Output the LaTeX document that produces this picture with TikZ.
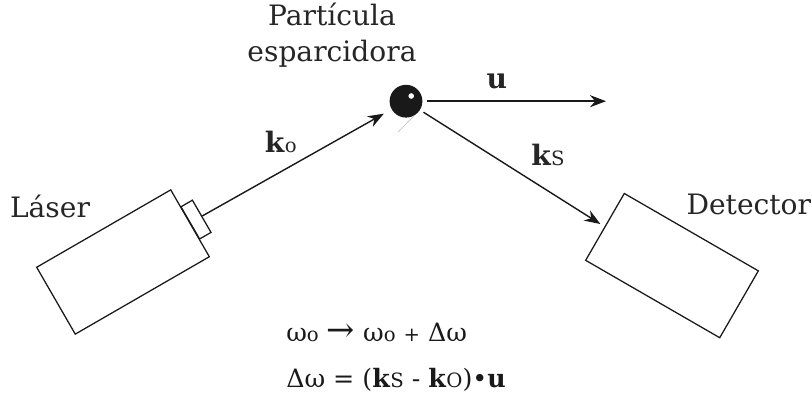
\documentclass[tikz,border=0pt]{standalone}
\usepackage{fontspec}
\setmainfont{DejaVu Serif}
\usetikzlibrary{arrows.meta, positioning}
\newcommand{\lowfont}{\fontsize{14}{16}\selectfont}

\begin{document}
\begin{tikzpicture}[
    box/.style={draw=black!90, line width=0.9pt, minimum width=3.87cm, minimum height=1.93cm},
    nozzle/.style={draw=black!90, line width=0.9pt, minimum width=0.33cm, minimum height=0.93cm, rotate=30},
    label/.style={font=\fontsize{20}{23}\selectfont, text=black!85, inner sep=0pt},
    eqn/.style={font=\fontsize{18}{20}\selectfont, text=black!90, inner sep=0pt, anchor=west},
    arrow/.style={-{Stealth[length=0.4cm, width=0.3cm]}, line width=1pt, black!90}
]
    % Page
    \useasboundingbox (0,0) rectangle (20.3,9.9);

    % Laser
    \node[box, rotate=30] (laser) at (3.075,3.35) {};
    \node[nozzle] (head) at (4.9,4.41) {};
    \node[label] (lasertxt) at (1.25,4.73) {Láser};

    % Detector
    \node[box, rotate=-30] (detector) at (16.8,3.26) {};
    \node[label] (detectortxt) at (18.72,4.78) {Detector};

    % Particle
    \node[circle, fill=black!90, minimum size=0.82cm, inner sep=0pt] (particle) at (10.15,7.37) {};
    \node[circle, fill=white, minimum size=0.14cm, inner sep=0pt] (spot) at (10.28,7.5) {};
    \node[label, align=center] (particletxt) at (8.3,9.02) {Partícula\\[0.1cm]esparcidora};
    \coordinate (uend) at (15.15,7.37);
    \coordinate (tail) at (9.95,6.6);

    % Vectors
    \draw[arrow, shorten >=0.22cm] (head.east) -- (particle);
    \draw[arrow, line width=1.4pt, shorten <=0.1cm] (particle) -- (uend);
    \draw[arrow, shorten <=0.1cm, shorten >=0.12cm] (particle) -- (detector.west);
    \draw[black!25, line width=0.5pt] (particle.-60) -- (tail);

    % Vector labels
    \node[label] (ko) at (7.02,6.35) {\textbf{k}{\lowfont o}};
    \node[label] (ks) at (13.7,6.02) {\textbf{k}{\lowfont S}};
    \node[label] (u) at (12.42,7.87) {\textbf{u}};

    % Equations
    \node[eqn] (eqfreq) at (7.15,1.6) {ω{\lowfont o} \fontsize{24}{24}\selectfont→\fontsize{18}{20}\selectfont{} ω{\lowfont o} {\lowfont +} Δω};
    \node[eqn] (eqshift) at (7.15,0.4) {Δω = (\textbf{k}{\lowfont S} - \textbf{k}{\lowfont O})•\textbf{u}};
\end{tikzpicture}
\end{document}
